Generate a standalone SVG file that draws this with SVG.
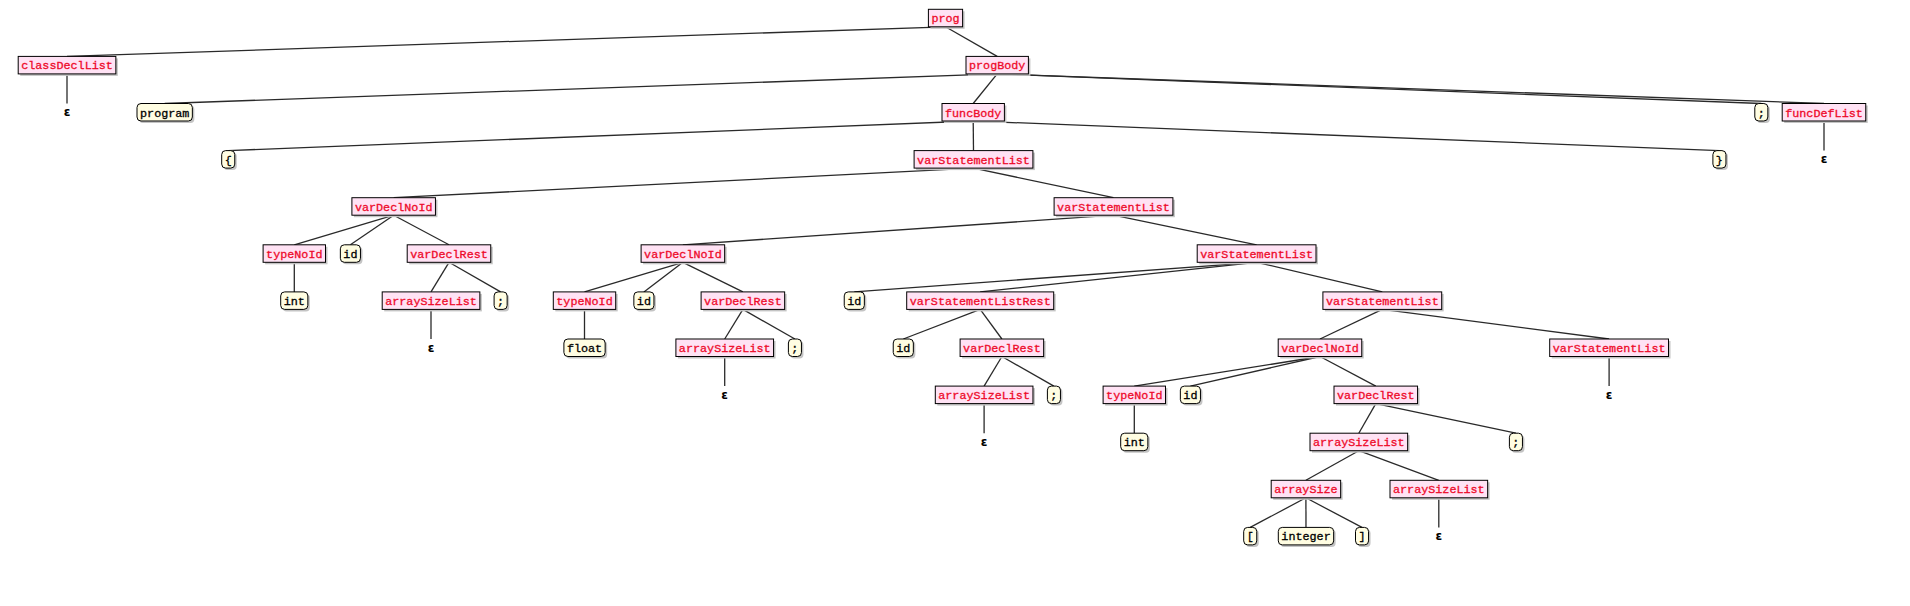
<svg xmlns="http://www.w3.org/2000/svg" width="1910" height="606" viewBox="0 0 1910 606">
<style>
.bg{fill:#ffffff}
.sh{fill:#c4c4c4}
.nt .b{fill:#ffe2f4;stroke:#000;stroke-width:1}
.nt text{fill:#ee0a2a;stroke:#ee0a2a;stroke-width:0.3;font-family:"Liberation Mono",monospace;font-size:11.75px;text-anchor:middle}
.t .b{fill:#fffde2;stroke:#000;stroke-width:1}
.t text{fill:#000;stroke:#000;stroke-width:0.3;font-family:"Liberation Mono",monospace;font-size:11.75px;text-anchor:middle}
.e text{fill:#000;font-family:"DejaVu Sans",sans-serif;font-size:12px;font-weight:bold;text-anchor:middle}
#edges line{stroke:#2a2a2a;stroke-width:1.3}
</style>
<rect class="bg" x="0" y="0" width="1910" height="606"/>
<g id="edges">
<line x1="945.5" y1="26.8" x2="67" y2="56.4"/>
<line x1="945.5" y1="26.8" x2="997.2" y2="56.4"/>
<line x1="67" y1="73.9" x2="67" y2="103.5"/>
<line x1="997.2" y1="73.9" x2="164.7" y2="103.5"/>
<line x1="997.2" y1="73.9" x2="973.2" y2="103.5"/>
<line x1="997.2" y1="73.9" x2="1761.3" y2="103.5"/>
<line x1="997.2" y1="73.9" x2="1824" y2="103.5"/>
<line x1="973.2" y1="121" x2="228.2" y2="150.6"/>
<line x1="973.2" y1="121" x2="973.5" y2="150.6"/>
<line x1="973.2" y1="121" x2="1719.4" y2="150.6"/>
<line x1="1824" y1="121" x2="1824" y2="150.6"/>
<line x1="973.5" y1="168.1" x2="393.7" y2="197.7"/>
<line x1="973.5" y1="168.1" x2="1113.5" y2="197.7"/>
<line x1="393.7" y1="215.2" x2="294.3" y2="244.8"/>
<line x1="393.7" y1="215.2" x2="350.4" y2="244.8"/>
<line x1="393.7" y1="215.2" x2="449" y2="244.8"/>
<line x1="1113.5" y1="215.2" x2="682.9" y2="244.8"/>
<line x1="1113.5" y1="215.2" x2="1256.6" y2="244.8"/>
<line x1="294.3" y1="262.3" x2="294.3" y2="291.9"/>
<line x1="449" y1="262.3" x2="431" y2="291.9"/>
<line x1="449" y1="262.3" x2="500.6" y2="291.9"/>
<line x1="682.9" y1="262.3" x2="584.5" y2="291.9"/>
<line x1="682.9" y1="262.3" x2="643.9" y2="291.9"/>
<line x1="682.9" y1="262.3" x2="742.9" y2="291.9"/>
<line x1="1256.6" y1="262.3" x2="854.3" y2="291.9"/>
<line x1="1256.6" y1="262.3" x2="980.2" y2="291.9"/>
<line x1="1256.6" y1="262.3" x2="1382.3" y2="291.9"/>
<line x1="431" y1="309.4" x2="431" y2="339"/>
<line x1="584.5" y1="309.4" x2="584.5" y2="339"/>
<line x1="742.9" y1="309.4" x2="724.7" y2="339"/>
<line x1="742.9" y1="309.4" x2="794.9" y2="339"/>
<line x1="980.2" y1="309.4" x2="903.3" y2="339"/>
<line x1="980.2" y1="309.4" x2="1001.9" y2="339"/>
<line x1="1382.3" y1="309.4" x2="1320" y2="339"/>
<line x1="1382.3" y1="309.4" x2="1609.1" y2="339"/>
<line x1="724.7" y1="356.5" x2="724.7" y2="386.1"/>
<line x1="1001.9" y1="356.5" x2="984.1" y2="386.1"/>
<line x1="1001.9" y1="356.5" x2="1053.9" y2="386.1"/>
<line x1="1320" y1="356.5" x2="1134.3" y2="386.1"/>
<line x1="1320" y1="356.5" x2="1190.4" y2="386.1"/>
<line x1="1320" y1="356.5" x2="1375.8" y2="386.1"/>
<line x1="1609.1" y1="356.5" x2="1609.1" y2="386.1"/>
<line x1="984.1" y1="403.6" x2="984.1" y2="433.2"/>
<line x1="1134.3" y1="403.6" x2="1134.3" y2="433.2"/>
<line x1="1375.8" y1="403.6" x2="1358.8" y2="433.2"/>
<line x1="1375.8" y1="403.6" x2="1515.9" y2="433.2"/>
<line x1="1358.8" y1="450.7" x2="1305.9" y2="480.3"/>
<line x1="1358.8" y1="450.7" x2="1438.8" y2="480.3"/>
<line x1="1305.9" y1="497.8" x2="1250.2" y2="527.4"/>
<line x1="1305.9" y1="497.8" x2="1306" y2="527.4"/>
<line x1="1305.9" y1="497.8" x2="1362" y2="527.4"/>
<line x1="1438.8" y1="497.8" x2="1438.8" y2="527.4"/>
</g>

<!-- L0 -->
<g id="n_prog" class="nt" transform="translate(945.5,9.3)"><rect class="sh" x="-15.1" y="2" width="34.2" height="17.5"/><rect class="b" x="-17.1" y="0" width="34.2" height="17.5"/><text x="0" y="13">prog</text></g>
<!-- L1 -->
<g id="n_classDeclList" class="nt" transform="translate(67,56.4)"><rect class="sh" x="-46.8" y="2" width="97.65" height="17.5"/><rect class="b" x="-48.8" y="0" width="97.65" height="17.5"/><text x="0" y="13">classDeclList</text></g>
<g id="n_progBody" class="nt" transform="translate(997.2,56.4)"><rect class="sh" x="-29.2" y="2" width="62.4" height="17.5"/><rect class="b" x="-31.2" y="0" width="62.4" height="17.5"/><text x="0" y="13">progBody</text></g>
<!-- L2 -->
<g id="n_eps1" class="e" transform="translate(67,103.5)"><text x="0" y="12.5">ε</text></g>
<g id="n_program" class="t" transform="translate(164.7,103.5)"><rect class="sh" x="-25.7" y="2" width="55.35" height="17.5" rx="4"/><rect class="b" x="-27.7" y="0" width="55.35" height="17.5" rx="4"/><text x="0" y="13">program</text></g>
<g id="n_funcBody" class="nt" transform="translate(973.2,103.5)"><rect class="sh" x="-29.2" y="2" width="62.4" height="17.5"/><rect class="b" x="-31.2" y="0" width="62.4" height="17.5"/><text x="0" y="13">funcBody</text></g>
<g id="n_semi1" class="t" transform="translate(1761.3,103.5)"><rect class="sh" x="-4.5" y="2" width="13.05" height="17.5" rx="4"/><rect class="b" x="-6.5" y="0" width="13.05" height="17.5" rx="4"/><text x="0" y="13">;</text></g>
<g id="n_funcDefList" class="nt" transform="translate(1824,103.5)"><rect class="sh" x="-39.8" y="2" width="83.55" height="17.5"/><rect class="b" x="-41.8" y="0" width="83.55" height="17.5"/><text x="0" y="13">funcDefList</text></g>
<!-- L3 -->
<g id="n_lbrace" class="t" transform="translate(228.2,150.6)"><rect class="sh" x="-4.5" y="2" width="13.05" height="17.5" rx="4"/><rect class="b" x="-6.5" y="0" width="13.05" height="17.5" rx="4"/><text x="0" y="13">{</text></g>
<g id="n_vsl1" class="nt" transform="translate(973.5,150.6)"><rect class="sh" x="-57.4" y="2" width="118.8" height="17.5"/><rect class="b" x="-59.4" y="0" width="118.8" height="17.5"/><text x="0" y="13">varStatementList</text></g>
<g id="n_rbrace" class="t" transform="translate(1719.4,150.6)"><rect class="sh" x="-4.5" y="2" width="13.05" height="17.5" rx="4"/><rect class="b" x="-6.5" y="0" width="13.05" height="17.5" rx="4"/><text x="0" y="13">}</text></g>
<g id="n_eps2" class="e" transform="translate(1824,150.6)"><text x="0" y="12.5">ε</text></g>
<!-- L4 -->
<g id="n_vdni1" class="nt" transform="translate(393.7,197.7)"><rect class="sh" x="-39.8" y="2" width="83.55" height="17.5"/><rect class="b" x="-41.8" y="0" width="83.55" height="17.5"/><text x="0" y="13">varDeclNoId</text></g>
<g id="n_vsl2" class="nt" transform="translate(1113.5,197.7)"><rect class="sh" x="-57.4" y="2" width="118.8" height="17.5"/><rect class="b" x="-59.4" y="0" width="118.8" height="17.5"/><text x="0" y="13">varStatementList</text></g>
<!-- L5 -->
<g id="n_typeNoId1" class="nt" transform="translate(294.3,244.8)"><rect class="sh" x="-29.2" y="2" width="62.4" height="17.5"/><rect class="b" x="-31.2" y="0" width="62.4" height="17.5"/><text x="0" y="13">typeNoId</text></g>
<g id="n_id1" class="t" transform="translate(350.4,244.8)"><rect class="sh" x="-8.05" y="2" width="20.1" height="17.5" rx="4"/><rect class="b" x="-10.05" y="0" width="20.1" height="17.5" rx="4"/><text x="0" y="13">id</text></g>
<g id="n_vdr1" class="nt" transform="translate(449,244.8)"><rect class="sh" x="-39.8" y="2" width="83.55" height="17.5"/><rect class="b" x="-41.8" y="0" width="83.55" height="17.5"/><text x="0" y="13">varDeclRest</text></g>
<g id="n_vdni2" class="nt" transform="translate(682.9,244.8)"><rect class="sh" x="-39.8" y="2" width="83.55" height="17.5"/><rect class="b" x="-41.8" y="0" width="83.55" height="17.5"/><text x="0" y="13">varDeclNoId</text></g>
<g id="n_vsl3" class="nt" transform="translate(1256.6,244.8)"><rect class="sh" x="-57.4" y="2" width="118.8" height="17.5"/><rect class="b" x="-59.4" y="0" width="118.8" height="17.5"/><text x="0" y="13">varStatementList</text></g>
<!-- L6 -->
<g id="n_int1" class="t" transform="translate(294.3,291.9)"><rect class="sh" x="-11.6" y="2" width="27.15" height="17.5" rx="4"/><rect class="b" x="-13.6" y="0" width="27.15" height="17.5" rx="4"/><text x="0" y="13">int</text></g>
<g id="n_asl1" class="nt" transform="translate(431,291.9)"><rect class="sh" x="-46.8" y="2" width="97.65" height="17.5"/><rect class="b" x="-48.8" y="0" width="97.65" height="17.5"/><text x="0" y="13">arraySizeList</text></g>
<g id="n_semi2" class="t" transform="translate(500.6,291.9)"><rect class="sh" x="-4.5" y="2" width="13.05" height="17.5" rx="4"/><rect class="b" x="-6.5" y="0" width="13.05" height="17.5" rx="4"/><text x="0" y="13">;</text></g>
<g id="n_typeNoId2" class="nt" transform="translate(584.5,291.9)"><rect class="sh" x="-29.2" y="2" width="62.4" height="17.5"/><rect class="b" x="-31.2" y="0" width="62.4" height="17.5"/><text x="0" y="13">typeNoId</text></g>
<g id="n_id2" class="t" transform="translate(643.9,291.9)"><rect class="sh" x="-8.05" y="2" width="20.1" height="17.5" rx="4"/><rect class="b" x="-10.05" y="0" width="20.1" height="17.5" rx="4"/><text x="0" y="13">id</text></g>
<g id="n_vdr2" class="nt" transform="translate(742.9,291.9)"><rect class="sh" x="-39.8" y="2" width="83.55" height="17.5"/><rect class="b" x="-41.8" y="0" width="83.55" height="17.5"/><text x="0" y="13">varDeclRest</text></g>
<g id="n_id3" class="t" transform="translate(854.3,291.9)"><rect class="sh" x="-8.05" y="2" width="20.1" height="17.5" rx="4"/><rect class="b" x="-10.05" y="0" width="20.1" height="17.5" rx="4"/><text x="0" y="13">id</text></g>
<g id="n_vslr" class="nt" transform="translate(980.2,291.9)"><rect class="sh" x="-71.5" y="2" width="147" height="17.5"/><rect class="b" x="-73.5" y="0" width="147" height="17.5"/><text x="0" y="13">varStatementListRest</text></g>
<g id="n_vsl4" class="nt" transform="translate(1382.3,291.9)"><rect class="sh" x="-57.4" y="2" width="118.8" height="17.5"/><rect class="b" x="-59.4" y="0" width="118.8" height="17.5"/><text x="0" y="13">varStatementList</text></g>
<!-- L7 -->
<g id="n_eps3" class="e" transform="translate(431,339)"><text x="0" y="12.5">ε</text></g>
<g id="n_float" class="t" transform="translate(584.5,339)"><rect class="sh" x="-18.6" y="2" width="41.25" height="17.5" rx="4"/><rect class="b" x="-20.6" y="0" width="41.25" height="17.5" rx="4"/><text x="0" y="13">float</text></g>
<g id="n_asl2" class="nt" transform="translate(724.7,339)"><rect class="sh" x="-46.8" y="2" width="97.65" height="17.5"/><rect class="b" x="-48.8" y="0" width="97.65" height="17.5"/><text x="0" y="13">arraySizeList</text></g>
<g id="n_semi3" class="t" transform="translate(794.9,339)"><rect class="sh" x="-4.5" y="2" width="13.05" height="17.5" rx="4"/><rect class="b" x="-6.5" y="0" width="13.05" height="17.5" rx="4"/><text x="0" y="13">;</text></g>
<g id="n_id4" class="t" transform="translate(903.3,339)"><rect class="sh" x="-8.05" y="2" width="20.1" height="17.5" rx="4"/><rect class="b" x="-10.05" y="0" width="20.1" height="17.5" rx="4"/><text x="0" y="13">id</text></g>
<g id="n_vdr3" class="nt" transform="translate(1001.9,339)"><rect class="sh" x="-39.8" y="2" width="83.55" height="17.5"/><rect class="b" x="-41.8" y="0" width="83.55" height="17.5"/><text x="0" y="13">varDeclRest</text></g>
<g id="n_vdni3" class="nt" transform="translate(1320,339)"><rect class="sh" x="-39.8" y="2" width="83.55" height="17.5"/><rect class="b" x="-41.8" y="0" width="83.55" height="17.5"/><text x="0" y="13">varDeclNoId</text></g>
<g id="n_vsl5" class="nt" transform="translate(1609.1,339)"><rect class="sh" x="-57.4" y="2" width="118.8" height="17.5"/><rect class="b" x="-59.4" y="0" width="118.8" height="17.5"/><text x="0" y="13">varStatementList</text></g>
<!-- L8 -->
<g id="n_eps4" class="e" transform="translate(724.7,386.1)"><text x="0" y="12.5">ε</text></g>
<g id="n_asl3" class="nt" transform="translate(984.1,386.1)"><rect class="sh" x="-46.8" y="2" width="97.65" height="17.5"/><rect class="b" x="-48.8" y="0" width="97.65" height="17.5"/><text x="0" y="13">arraySizeList</text></g>
<g id="n_semi4" class="t" transform="translate(1053.9,386.1)"><rect class="sh" x="-4.5" y="2" width="13.05" height="17.5" rx="4"/><rect class="b" x="-6.5" y="0" width="13.05" height="17.5" rx="4"/><text x="0" y="13">;</text></g>
<g id="n_typeNoId3" class="nt" transform="translate(1134.3,386.1)"><rect class="sh" x="-29.2" y="2" width="62.4" height="17.5"/><rect class="b" x="-31.2" y="0" width="62.4" height="17.5"/><text x="0" y="13">typeNoId</text></g>
<g id="n_id5" class="t" transform="translate(1190.4,386.1)"><rect class="sh" x="-8.05" y="2" width="20.1" height="17.5" rx="4"/><rect class="b" x="-10.05" y="0" width="20.1" height="17.5" rx="4"/><text x="0" y="13">id</text></g>
<g id="n_vdr4" class="nt" transform="translate(1375.8,386.1)"><rect class="sh" x="-39.8" y="2" width="83.55" height="17.5"/><rect class="b" x="-41.8" y="0" width="83.55" height="17.5"/><text x="0" y="13">varDeclRest</text></g>
<g id="n_eps5" class="e" transform="translate(1609.1,386.1)"><text x="0" y="12.5">ε</text></g>
<!-- L9 -->
<g id="n_eps6" class="e" transform="translate(984.1,433.2)"><text x="0" y="12.5">ε</text></g>
<g id="n_int2" class="t" transform="translate(1134.3,433.2)"><rect class="sh" x="-11.6" y="2" width="27.15" height="17.5" rx="4"/><rect class="b" x="-13.6" y="0" width="27.15" height="17.5" rx="4"/><text x="0" y="13">int</text></g>
<g id="n_asl4" class="nt" transform="translate(1358.8,433.2)"><rect class="sh" x="-46.8" y="2" width="97.65" height="17.5"/><rect class="b" x="-48.8" y="0" width="97.65" height="17.5"/><text x="0" y="13">arraySizeList</text></g>
<g id="n_semi5" class="t" transform="translate(1515.9,433.2)"><rect class="sh" x="-4.5" y="2" width="13.05" height="17.5" rx="4"/><rect class="b" x="-6.5" y="0" width="13.05" height="17.5" rx="4"/><text x="0" y="13">;</text></g>
<!-- L10 -->
<g id="n_arraySize" class="nt" transform="translate(1305.9,480.3)"><rect class="sh" x="-32.7" y="2" width="69.45" height="17.5"/><rect class="b" x="-34.7" y="0" width="69.45" height="17.5"/><text x="0" y="13">arraySize</text></g>
<g id="n_asl5" class="nt" transform="translate(1438.8,480.3)"><rect class="sh" x="-46.8" y="2" width="97.65" height="17.5"/><rect class="b" x="-48.8" y="0" width="97.65" height="17.5"/><text x="0" y="13">arraySizeList</text></g>
<!-- L11 -->
<g id="n_lbrack" class="t" transform="translate(1250.2,527.4)"><rect class="sh" x="-4.5" y="2" width="13.05" height="17.5" rx="4"/><rect class="b" x="-6.5" y="0" width="13.05" height="17.5" rx="4"/><text x="0" y="13">[</text></g>
<g id="n_integer" class="t" transform="translate(1306,527.4)"><rect class="sh" x="-25.7" y="2" width="55.35" height="17.5" rx="4"/><rect class="b" x="-27.7" y="0" width="55.35" height="17.5" rx="4"/><text x="0" y="13">integer</text></g>
<g id="n_rbrack" class="t" transform="translate(1362,527.4)"><rect class="sh" x="-4.5" y="2" width="13.05" height="17.5" rx="4"/><rect class="b" x="-6.5" y="0" width="13.05" height="17.5" rx="4"/><text x="0" y="13">]</text></g>
<g id="n_eps7" class="e" transform="translate(1438.8,527.4)"><text x="0" y="12.5">ε</text></g>
</svg>
